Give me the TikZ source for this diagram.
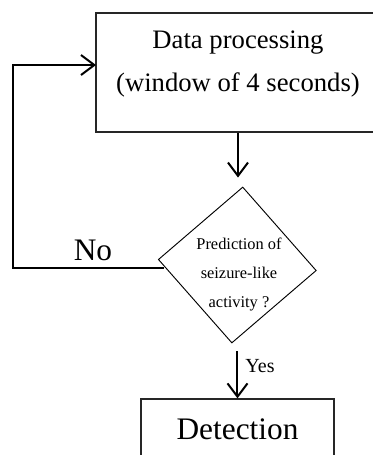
\documentclass[tikz,border=0pt]{standalone}
\usepackage{fontspec}
\setmainfont{Liberation Serif}
\usetikzlibrary{shapes.geometric,arrows.meta}

\tikzset{
  box/.style={draw=black!85, line width=0.9pt, inner sep=0pt},
  flow/.style={line width=1.5pt, -{Straight Barb[length=10pt,width=15pt]}},
}

\begin{document}
\begin{tikzpicture}[x=0.75pt,y=-0.75pt]

\useasboundingbox (0,0) rectangle (373,455);
\clip (0,0) rectangle (373,455);

% boxes
\node[box, minimum width=213pt, minimum height=89.25pt] (proc) at (238,72.5) {};
\node[align=center, font=\fontsize{20}{32.25}\selectfont] (proctext) at (238,64)
  {Data processing\\(window of 4 seconds)};

\node[box, draw=black, line width=0.7pt, diamond, rotate=-4, minimum width=118.8pt,
  minimum height=117.3pt] (dshape) at (237.3,265) {};
\node[align=center, font=\fontsize{12.3}{21.75}\selectfont] (decision) at (239,274)
  {Prediction of\\seizure-like\\activity ?};

\node[box, minimum width=144.75pt, minimum height=45pt,
  font=\fontsize{23.5}{28}\selectfont] (det) at (237.5,429) {Detection};

% connectors
\draw[flow, shorten >=6.75pt] (proc.south) -- (proc.south |- dshape.north);
\draw[flow, shorten <=6pt] (det.north |- dshape.south) -- (det.north);

\coordinate (nostart) at (164,268);
\coordinate (turn) at (13,268);
\coordinate (back) at (96,65);
\draw[flow] (nostart) -- (turn) |- (back);

% labels
\node[font=\fontsize{23.5}{28}\selectfont] (nolabel) at (93,250) {No};
\node[font=\fontsize{15}{18}\selectfont] (yeslabel) at (260,366) {Yes};

\end{tikzpicture}
\end{document}
